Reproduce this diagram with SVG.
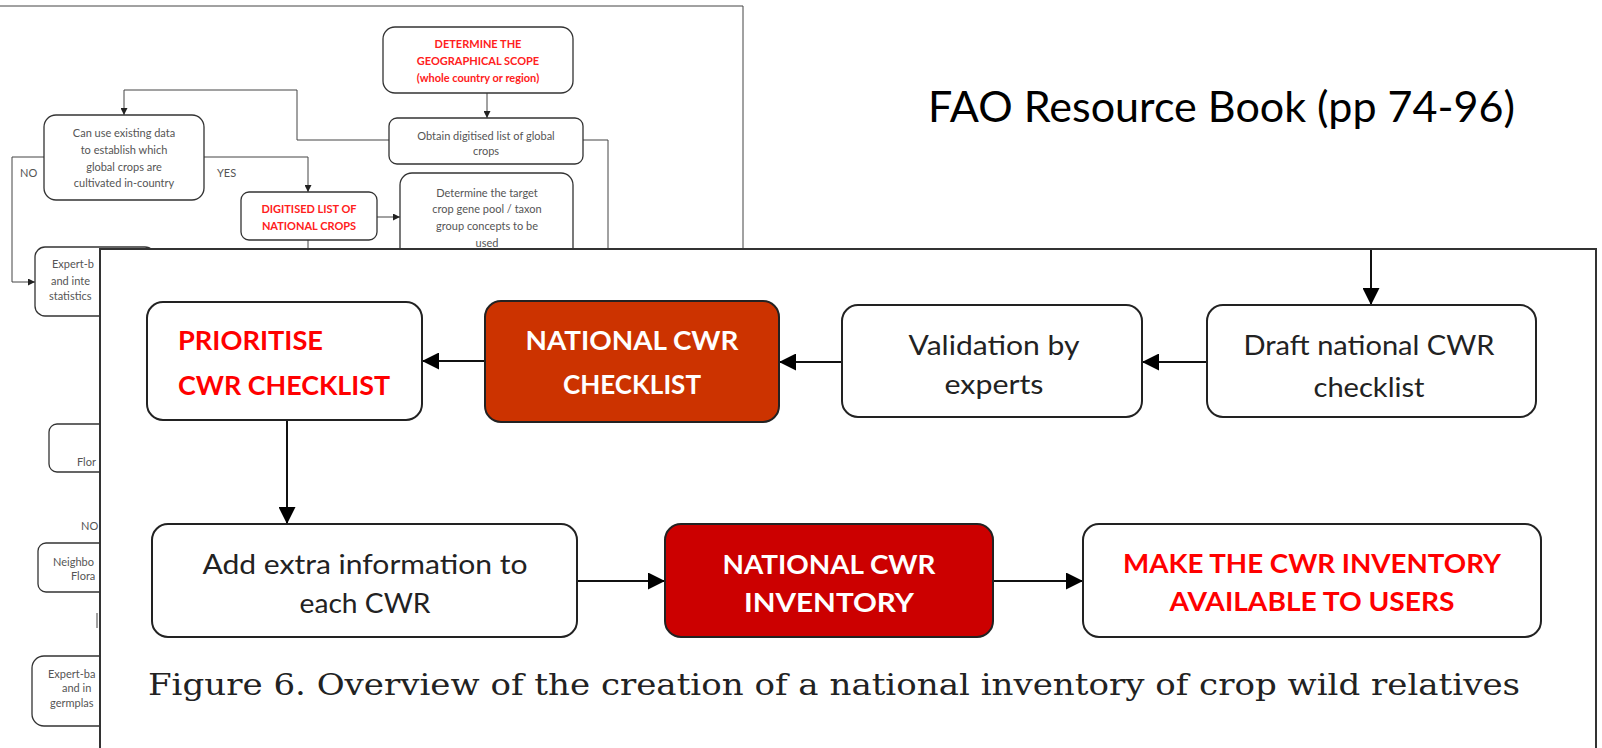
<svg xmlns="http://www.w3.org/2000/svg" width="1602" height="748" viewBox="0 0 1602 748">
<defs>
<style>
.bbox{fill:#fff;stroke:#333;stroke-width:1.3}
.bline{fill:none;stroke:#444;stroke-width:1}
.btxt{font-family:Lato,"Liberation Sans",sans-serif;font-size:11px;fill:#555;text-anchor:middle}
.btxtl{font-family:Lato,"Liberation Sans",sans-serif;font-size:11px;fill:#555}
.bred{font-family:Lato,"Liberation Sans",sans-serif;font-size:11px;font-weight:bold;fill:#ff2020;text-anchor:middle}
.fbox{fill:#fff;stroke:#222;stroke-width:2}
.fline{fill:none;stroke:#111;stroke-width:2}
.ftxt{font-family:Lato,"Liberation Sans",sans-serif;font-size:26px;fill:#222;text-anchor:middle}
.fbold{font-family:Lato,"Liberation Sans",sans-serif;font-size:27px;font-weight:bold;text-anchor:middle}
.red{fill:#ff0000}
.white{fill:#fff}
</style>
<marker id="bar" viewBox="0 0 10 10" refX="10" refY="5" markerUnits="userSpaceOnUse" markerWidth="7" markerHeight="7" orient="auto"><path d="M0,0 L10,5 L0,10 z" fill="#222"/></marker>
<marker id="far" viewBox="0 0 10 10" refX="10" refY="5" markerUnits="userSpaceOnUse" markerWidth="17" markerHeight="17" orient="auto"><path d="M0,0 L10,5 L0,10 z" fill="#000"/></marker>
</defs>
<rect x="0" y="0" width="1602" height="748" fill="#fff"/>

<!-- background page -->
<g id="back-page">
<path class="bline" d="M0,6 H743 V250" stroke="#333" stroke-width="1.5"/>
</g>
<g id="back-connectors">
<path class="bline" d="M487,93 V118" marker-end="url(#bar)"/>
<path class="bline" d="M389,140 H297 V90 H124 V115" marker-end="url(#bar)"/>
<path class="bline" d="M583,140 H608 V250"/>
<path class="bline" d="M204,157 H308 V192" marker-end="url(#bar)"/>
<path class="bline" d="M44,157 H12 V282 H35" marker-end="url(#bar)"/>
<path class="bline" d="M377,217 H400" marker-end="url(#bar)"/>
<path class="bline" d="M308,240 V250"/>
<path class="bline" d="M97,613 V628"/>
</g>
<g id="b-scope"><rect class="bbox" x="383" y="27" width="190" height="66" rx="12"/>
<text class="bred" x="478" y="48">DETERMINE THE</text>
<text class="bred" x="478" y="65">GEOGRAPHICAL SCOPE</text>
<text class="bred" x="478" y="82">(whole country or region)</text></g>
<g id="b-obtain"><rect class="bbox" x="389" y="118" width="194" height="46" rx="8"/>
<text class="btxt" x="486" y="140">Obtain digitised list of global</text>
<text class="btxt" x="486" y="155">crops</text></g>
<g id="b-canuse"><rect class="bbox" x="44" y="115" width="160" height="85" rx="12"/>
<text class="btxt" x="124" y="137">Can use existing data</text>
<text class="btxt" x="124" y="154">to establish which</text>
<text class="btxt" x="124" y="171">global crops are</text>
<text class="btxt" x="124" y="187">cultivated in-country</text></g>
<g id="b-labels"><text class="btxtl" x="20" y="177">NO</text><text class="btxtl" x="217" y="177">YES</text></g>
<g id="b-digitised"><rect class="bbox" x="241" y="192" width="136" height="48" rx="8"/>
<text class="bred" x="309" y="213">DIGITISED LIST OF</text>
<text class="bred" x="309" y="230">NATIONAL CROPS</text></g>
<g id="b-target"><rect class="bbox" x="400" y="173" width="173" height="100" rx="12"/>
<text class="btxt" x="487" y="197">Determine the target</text>
<text class="btxt" x="487" y="213">crop gene pool / taxon</text>
<text class="btxt" x="487" y="230">group concepts to be</text>
<text class="btxt" x="487" y="247">used</text></g>
<g id="b-expert1"><rect class="bbox" x="35" y="247" width="120" height="69" rx="10"/>
<text class="btxtl" x="52" y="268">Expert-b</text>
<text class="btxtl" x="51" y="285">and inte</text>
<text class="btxtl" x="49" y="300">statistics</text></g>
<g id="b-flora"><rect class="bbox" x="49" y="424" width="110" height="48" rx="8"/>
<text class="btxtl" x="77" y="466">Flor</text></g>
<g id="b-no2"><text class="btxtl" x="81" y="530">NO</text></g>
<g id="b-neigh"><rect class="bbox" x="38" y="543" width="120" height="49" rx="8"/>
<text class="btxtl" x="53" y="566">Neighbo</text>
<text class="btxtl" x="71" y="580">Flora</text></g>
<g id="b-expert2"><rect class="bbox" x="32" y="656" width="120" height="70" rx="12"/>
<text class="btxtl" x="48" y="678">Expert-ba</text>
<text class="btxtl" x="62" y="692">and in</text>
<text class="btxtl" x="50" y="707">germplas</text></g>

<!-- title -->
<g id="title"><text x="928" y="122" font-family="Lato,'Liberation Sans',sans-serif" font-size="42" fill="#000" textLength="587" lengthAdjust="spacingAndGlyphs">FAO Resource Book (pp 74-96)</text></g>

<!-- front panel -->
<g id="front-panel"><rect x="100" y="249" width="1496" height="520" fill="#fff" stroke="#333" stroke-width="2"/></g>

<g id="front-connectors">
<path class="fline" d="M1371,250 V305" marker-end="url(#far)"/>
<path class="fline" d="M1207,362 H1142" marker-end="url(#far)"/>
<path class="fline" d="M842,362 H779" marker-end="url(#far)"/>
<path class="fline" d="M485,361 H422" marker-end="url(#far)"/>
<path class="fline" d="M287,420 V524" marker-end="url(#far)"/>
<path class="fline" d="M577,581 H665" marker-end="url(#far)"/>
<path class="fline" d="M993,581 H1083" marker-end="url(#far)"/>
</g>

<g id="prioritise"><rect class="fbox" x="147" y="302" width="275" height="118" rx="16"/>
<text class="fbold red" x="178" y="350" style="text-anchor:start" textLength="145" lengthAdjust="spacingAndGlyphs">PRIORITISE</text>
<text class="fbold red" x="178" y="395" style="text-anchor:start" textLength="212" lengthAdjust="spacingAndGlyphs">CWR CHECKLIST</text></g>
<g id="national-checklist"><rect x="485" y="301" width="294" height="121" rx="16" fill="#cc3300" stroke="#222" stroke-width="2"/>
<text class="fbold white" x="632" y="350" textLength="213" lengthAdjust="spacingAndGlyphs">NATIONAL CWR</text>
<text class="fbold white" x="632" y="394" textLength="138" lengthAdjust="spacingAndGlyphs">CHECKLIST</text></g>
<g id="validation"><rect class="fbox" x="842" y="305" width="300" height="112" rx="16"/>
<text class="ftxt" x="994" y="355" textLength="171" lengthAdjust="spacingAndGlyphs">Validation by</text>
<text class="ftxt" x="994" y="394" textLength="99" lengthAdjust="spacingAndGlyphs">experts</text></g>
<g id="draft"><rect class="fbox" x="1207" y="305" width="329" height="112" rx="16"/>
<text class="ftxt" x="1369" y="355" textLength="251" lengthAdjust="spacingAndGlyphs">Draft national CWR</text>
<text class="ftxt" x="1369" y="397" textLength="111" lengthAdjust="spacingAndGlyphs">checklist</text></g>
<g id="add-info"><rect class="fbox" x="152" y="524" width="425" height="113" rx="16"/>
<text class="ftxt" x="365" y="574" textLength="325" lengthAdjust="spacingAndGlyphs">Add extra information to</text>
<text class="ftxt" x="365" y="613" textLength="131" lengthAdjust="spacingAndGlyphs">each CWR</text></g>
<g id="national-inventory"><rect x="665" y="524" width="328" height="113" rx="16" fill="#cc0000" stroke="#222" stroke-width="2"/>
<text class="fbold white" x="829" y="574" textLength="213" lengthAdjust="spacingAndGlyphs">NATIONAL CWR</text>
<text class="fbold white" x="829" y="612" textLength="170" lengthAdjust="spacingAndGlyphs">INVENTORY</text></g>
<g id="make-available"><rect class="fbox" x="1083" y="524" width="458" height="113" rx="16"/>
<text class="fbold red" x="1312" y="573" textLength="378" lengthAdjust="spacingAndGlyphs">MAKE THE CWR INVENTORY</text>
<text class="fbold red" x="1312" y="611" textLength="285" lengthAdjust="spacingAndGlyphs">AVAILABLE TO USERS</text></g>
<g id="caption"><text x="148" y="695" font-family="'DejaVu Serif','Liberation Serif',serif" font-size="30" fill="#222" textLength="1372" lengthAdjust="spacingAndGlyphs">Figure 6. Overview of the creation of a national inventory of crop wild relatives</text></g>
</svg>
